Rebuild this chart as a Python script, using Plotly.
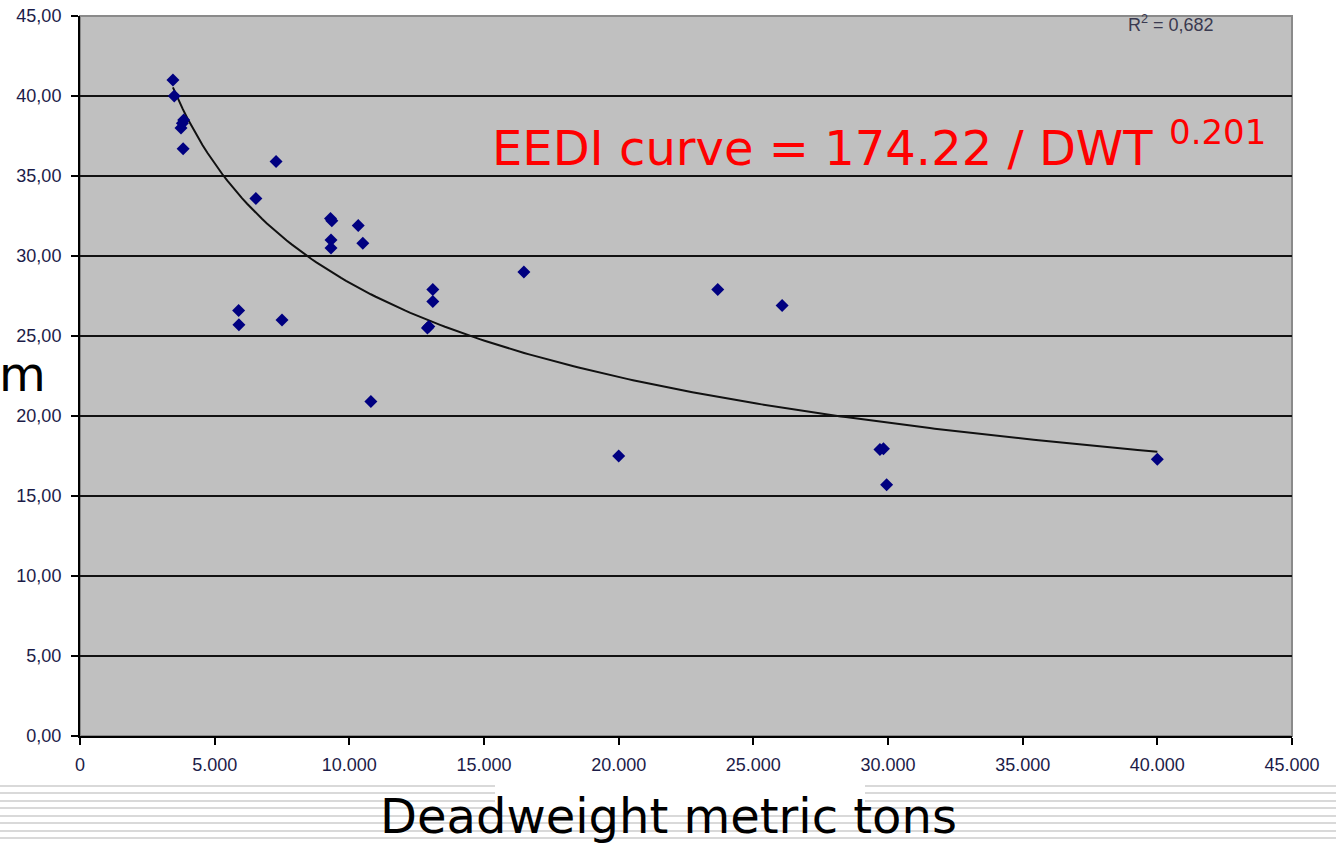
import numpy as np
import plotly.graph_objects as go

# Data (deadweight tons, EEDI value)
dwt = [3450, 3500, 3750, 3800, 3850, 3830, 7280, 6530, 5890, 5900, 7500,
       9300, 9350, 9320, 9320, 10330, 10500, 10800, 12900, 12950, 13100, 13100,
       16480, 20000, 23680, 26070, 29700, 29830, 29950, 40000]
eedi = [41.0, 40.0, 38.0, 38.3, 38.5, 36.7, 35.9, 33.6, 26.6, 25.7, 26.0,
        32.35, 32.2, 31.0, 30.5, 31.9, 30.8, 20.9, 25.5, 25.6, 27.9, 27.15,
        29.0, 17.5, 27.9, 26.9, 17.9, 17.95, 15.7, 17.3]

# Power trendline y = a * x^b, coefficients estimated from the drawn curve
trend_a = 629.0
trend_b = -0.3366

x_ticks = [0, 5000, 10000, 15000, 20000, 25000, 30000, 35000, 40000, 45000]
x_tick_text = ["0", "5.000", "10.000", "15.000", "20.000", "25.000",
               "30.000", "35.000", "40.000", "45.000"]
y_ticks = [0, 5, 10, 15, 20, 25, 30, 35, 40, 45]
y_tick_text = ["0,00", "5,00", "10,00", "15,00", "20,00", "25,00",
               "30,00", "35,00", "40,00", "45,00"]

r2_label = "R<sup>2</sup> = 0,682"
eedi_label = "EEDI curve = 174.22 / DWT"
eedi_exp = "0.201"
x_title = "Deadweight metric tons"
y_title_fragment = "m"

trend_x = np.linspace(min(dwt), max(dwt), 200)
trend_y = trend_a * trend_x ** trend_b

fig = go.Figure()
fig.add_trace(go.Scatter(x=trend_x, y=trend_y, mode="lines",
                         line=dict(color="#111111", width=2), hoverinfo="skip",
                         showlegend=False))
fig.add_trace(go.Scatter(x=dwt, y=eedi, mode="markers",
                         marker=dict(symbol="diamond", size=10, color="#000080"),
                         showlegend=False))

tick_font = dict(family="Liberation Sans, Arial, sans-serif", size=18, color="#1c1c48")

fig.update_xaxes(range=[0, 45000], tickvals=x_ticks, ticktext=x_tick_text,
                 showgrid=False, zeroline=False, showline=True, linecolor="black",
                 linewidth=2, ticks="outside", ticklen=7, tickwidth=2, tickcolor="black",
                 tickfont=tick_font, ticklabelstandoff=4, automargin=False)
fig.update_yaxes(range=[0, 45], tickvals=y_ticks, ticktext=y_tick_text,
                 showgrid=True, gridcolor="#111111", gridwidth=2, zeroline=False,
                 showline=True, linecolor="black", linewidth=2, ticks="outside",
                 ticklen=7, tickwidth=2, tickcolor="black", tickfont=tick_font,
                 ticklabelstandoff=6, automargin=False)

shapes = [dict(type="rect", xref="paper", yref="paper", x0=0, x1=1, y0=0, y1=1,
               line=dict(color="#8a8a8a", width=2), layer="below")]
# decorative striped band at the bottom of the slide
stripe_rows = [786, 793, 801, 808, 816, 823, 831, 838]
W, H = 1336, 844
for i, yy in enumerate(stripe_rows):
    ypap = (736 - yy) / 720.0
    if i < 4:
        segs = [(0, 495), (865, W)]
    else:
        segs = [(0, W)]
    for a0, a1 in segs:
        shapes.append(dict(type="line", xref="paper", yref="paper",
                           x0=(a0 - 80) / 1212.0, x1=(a1 - 80) / 1212.0,
                           y0=ypap, y1=ypap, line=dict(color="#d9d9d9", width=2),
                           layer="below"))

annotations = [
    dict(text=eedi_label, xref="paper", yref="paper", x=(490 - 80) / 1212.0,
         y=(736 - 148) / 720.0, xanchor="left", yanchor="middle", showarrow=False,
         font=dict(family="DejaVu Sans", size=48, color="#ff0000")),
    dict(text=eedi_exp, xref="paper", yref="paper", x=(1167 - 80) / 1212.0,
         y=(736 - 132) / 720.0, xanchor="left", yanchor="middle", showarrow=False,
         font=dict(family="DejaVu Sans", size=34, color="#ff0000")),
    dict(text=r2_label, xref="paper", yref="paper", x=(1171 - 80) / 1212.0,
         y=(736 - 24) / 720.0, xanchor="center", yanchor="middle", showarrow=False,
         font=dict(family="Liberation Sans, Arial", size=18, color="#3a3a50")),
    dict(text=x_title, xref="paper", yref="paper", x=(668 - 80) / 1212.0,
         y=(736 - 816) / 720.0, xanchor="center", yanchor="middle", showarrow=False,
         font=dict(family="DejaVu Sans", size=48, color="black")),
    dict(text=y_title_fragment, xref="paper", yref="paper", x=(-3 - 80) / 1212.0,
         y=(736 - 374) / 720.0, xanchor="left", yanchor="middle", showarrow=False,
         font=dict(family="DejaVu Sans", size=48, color="black")),
]

fig.update_layout(width=W, height=H, paper_bgcolor="white", plot_bgcolor="#c0c0c0",
                  margin=dict(l=80, r=44, t=16, b=108, autoexpand=False), shapes=shapes,
                  annotations=annotations, showlegend=False)

fig.write_html("out.html", config={"displayModeBar": False},
               post_script="document.body.style.margin='0';document.body.style.padding='0';")
